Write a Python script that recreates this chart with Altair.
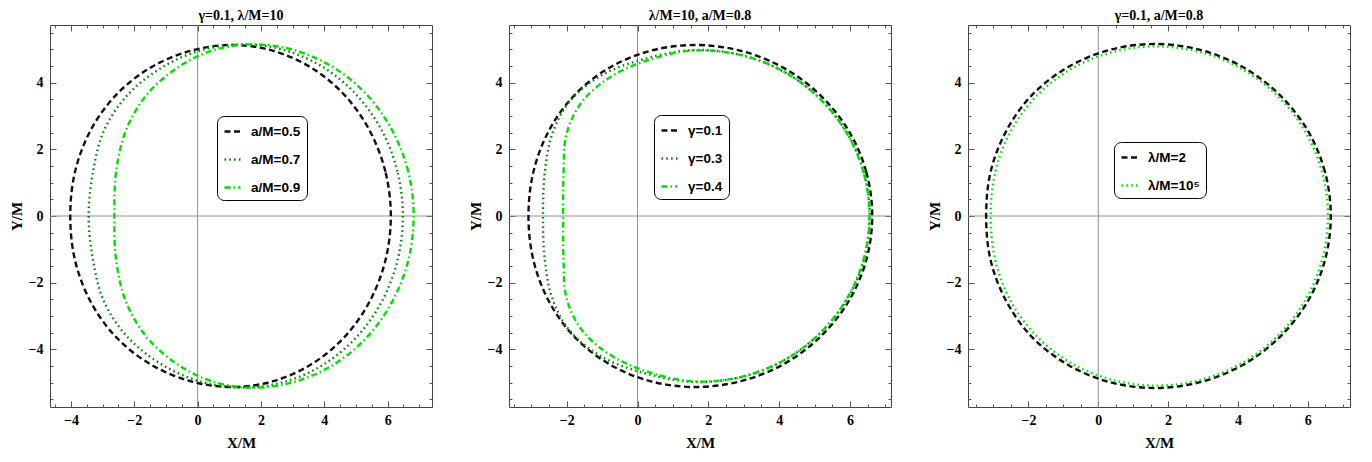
import altair as alt
import pandas as pd

W = 382
H = 382

# ---------------- axis domains and ticks ----------------
XDOM1 = [-4.66, 7.40]
XDOM2 = [-3.63, 7.16]
XDOM3 = [-3.73, 7.21]
YDOM = [-5.73, 5.73]

X_MAJOR1 = [-4, -2, 0, 2, 4, 6]
X_MAJOR23 = [-2, 0, 2, 4, 6]
X_MINOR1 = [-4.5, -3.5, -3, -2.5, -1.5, -1, -0.5, 0.5, 1, 1.5, 2.5, 3, 3.5, 4.5, 5, 5.5, 6.5, 7]
X_MINOR23 = [-3.5, -3, -2.5, -1.5, -1, -0.5, 0.5, 1, 1.5, 2.5, 3, 3.5, 4.5, 5, 5.5, 6.5, 7]
Y_MAJOR = [-4, -2, 0, 2, 4]
Y_MINOR = [-5.5, -5, -4.5, -3.5, -3, -2.5, -1.5, -1, -0.5, 0.5, 1, 1.5, 2.5, 3, 3.5, 4.5, 5, 5.5]
ZERO = [0]

# ---------------- panel 1 : gamma=0.1, lambda/M=10 ----------------
P1_NAMES = ["a/M=0.5", "a/M=0.7", "a/M=0.9"]
P1A_X = [6.10, 5.93, 5.43, 4.64, 3.60, 2.39, 1.10, -0.23, -1.50, -2.58, -3.38, -3.87, -4.02,
         -3.87, -3.38, -2.58, -1.50, -0.23, 1.10, 2.39, 3.60, 4.64, 5.43, 5.93]
P1A_Y = [0, 1.328, 2.565, 3.627, 4.443, 4.955, 5.13, 4.955, 4.443, 3.627, 2.565, 1.328, 0,
         -1.328, -2.565, -3.627, -4.443, -4.955, -5.13, -4.955, -4.443, -3.627, -2.565, -1.328]
P1B_X = [6.48, 6.31, 5.81, 5.01, 3.97, 2.75, 1.45, 0.12, -1.12, -2.20, -2.95, -3.30, -3.44,
         -3.30, -2.95, -2.20, -1.12, 0.12, 1.45, 2.75, 3.97, 5.01, 5.81, 6.31]
P1B_Y = [0, 1.333, 2.575, 3.642, 4.460, 4.975, 5.15, 4.975, 4.460, 3.642, 2.575, 1.333, 0,
         -1.333, -2.575, -3.642, -4.460, -4.975, -5.15, -4.975, -4.460, -3.642, -2.575, -1.333]
P1C_X = [6.82, 6.65, 6.14, 5.34, 4.29, 3.06, 1.75, 0.50, -0.62, -1.60, -2.26, -2.57, -2.63,
         -2.57, -2.26, -1.60, -0.62, 0.50, 1.75, 3.06, 4.29, 5.34, 6.14, 6.65]
P1C_Y = [0, 1.333, 2.575, 3.642, 4.460, 4.975, 5.15, 4.975, 4.460, 3.642, 2.575, 1.333, 0,
         -1.333, -2.575, -3.642, -4.460, -4.975, -5.15, -4.975, -4.460, -3.642, -2.575, -1.333]

# ---------------- panel 2 : lambda/M=10, a/M=0.8 ----------------
P2_NAMES = ["γ=0.1", "γ=0.3", "γ=0.4"]
P2A_X = [6.63, 6.46, 5.96, 5.16, 4.13, 2.92, 1.62, 0.36, -0.80, -1.78, -2.50, -2.94, -3.08,
         -2.94, -2.50, -1.78, -0.80, 0.36, 1.62, 2.92, 4.13, 5.16, 5.96, 6.46]
P2A_Y = [0, 1.328, 2.565, 3.627, 4.443, 4.955, 5.13, 4.955, 4.443, 3.627, 2.565, 1.328, 0,
         -1.328, -2.565, -3.627, -4.443, -4.955, -5.13, -4.955, -4.443, -3.627, -2.565, -1.328]
P2B_X = [6.56, 6.40, 5.92, 5.15, 4.16, 3.00, 1.75, 0.55, -0.85, -1.85, -2.40, -2.62, -2.67,
         -2.62, -2.40, -1.85, -0.85, 0.55, 1.75, 3.00, 4.16, 5.15, 5.92, 6.40]
P2B_Y = [0, 1.289, 2.490, 3.521, 4.313, 4.810, 4.98, 4.810, 4.313, 3.521, 2.490, 1.289, 0,
         -1.289, -2.490, -3.521, -4.313, -4.810, -4.98, -4.810, -4.313, -3.521, -2.490, -1.289]
P2C_X = [6.55, 6.39, 5.91, 5.16, 4.18, 3.03, 1.80, 0.70, -0.55, -1.50, -2.00, -2.09, -2.10,
         -2.09, -2.00, -1.50, -0.55, 0.70, 1.80, 3.03, 4.18, 5.16, 5.91, 6.39]
P2C_Y = [0, 1.286, 2.485, 3.514, 4.304, 4.801, 4.97, 4.801, 4.304, 3.514, 2.485, 1.286, 0,
         -1.286, -2.485, -3.514, -4.304, -4.801, -4.97, -4.801, -4.304, -3.514, -2.485, -1.286]

# ---------------- panel 3 : gamma=0.1, a/M=0.8 ----------------
P3_NAMES = ["λ/M=2", "λ/M=10⁵"]
P3A_X = [6.66, 6.49, 5.99, 5.18, 4.14, 2.92, 1.62, 0.33, -0.86, -1.88, -2.62, -3.08, -3.21,
         -3.08, -2.62, -1.88, -0.86, 0.33, 1.62, 2.92, 4.14, 5.18, 5.99, 6.49]
P3A_Y = [0, 1.335, 2.580, 3.649, 4.469, 4.984, 5.16, 4.984, 4.469, 3.649, 2.580, 1.335, 0,
         -1.335, -2.580, -3.649, -4.469, -4.984, -5.16, -4.984, -4.469, -3.649, -2.580, -1.335]
P3B_X = [6.58, 6.41, 5.92, 5.14, 4.12, 2.93, 1.65, 0.40, -0.78, -1.77, -2.51, -2.95, -3.08,
         -2.95, -2.51, -1.77, -0.78, 0.40, 1.65, 2.93, 4.12, 5.14, 5.92, 6.41]
P3B_Y = [0, 1.317, 2.545, 3.599, 4.408, 4.917, 5.09, 4.917, 4.408, 3.599, 2.545, 1.317, 0,
         -1.317, -2.545, -3.599, -4.408, -4.917, -5.09, -4.917, -4.408, -3.599, -2.545, -1.317]

# ---------------- styles ----------------
BLACK = "#111111"
DKGREEN = "#008a00"
GREEN = "#00e000"
DASHED = [6, 3.5]
DOTTED = [1.6, 3.2]
DOTDASH = [6, 3, 1.6, 3]

SERIF = "Liberation Serif"
SANS = "Liberation Sans"


def make_panel(curves, names, colors, dashes, xdom, x_major, x_minor, title, lx, ly):
    rows = []
    for name, (xs, ys) in zip(names, curves):
        for i, (a, b) in enumerate(zip(xs, ys)):
            rows.append({"s": name, "i": i, "x": a, "y": b})
    df = pd.DataFrame(rows)

    xsc = alt.Scale(domain=xdom, nice=False, zero=False)
    ysc = alt.Scale(domain=YDOM, nice=False, zero=False)

    leg = alt.Legend(
        orient="none", legendX=lx, legendY=ly, title=None,
        strokeColor="#000000", fillColor="#ffffff", cornerRadius=7,
        padding=6, rowPadding=12, symbolType="stroke", symbolSize=256,
        symbolStrokeWidth=2.4, labelFont=SANS, labelFontWeight="bold",
        labelFontSize=13.5, labelOffset=9, labelColor="#000000",
    )

    zx = alt.Chart(pd.DataFrame({"v": ZERO})).mark_rule(color="#909090", strokeWidth=1).encode(
        x=alt.X("v:Q", scale=xsc, axis=None)
    )
    zy = alt.Chart(pd.DataFrame({"v": ZERO})).mark_rule(color="#909090", strokeWidth=1).encode(
        y=alt.Y("v:Q", scale=ysc, axis=None)
    )

    lines = alt.Chart(df).mark_line(interpolate="cardinal-closed", strokeWidth=2.4).encode(
        x=alt.X("x:Q", scale=xsc, axis=alt.Axis(
            orient="bottom", values=x_major, format="d", ticks=False, tickSize=0,
            domain=False, grid=False, title="X/M", labelPadding=6, titlePadding=8)),
        y=alt.Y("y:Q", scale=ysc, axis=alt.Axis(
            orient="left", values=Y_MAJOR, format="d", ticks=False, tickSize=0,
            domain=False, grid=False, title="Y/M", labelPadding=7, titlePadding=4)),
        color=alt.Color("s:N", scale=alt.Scale(domain=names, range=colors), legend=leg),
        strokeDash=alt.StrokeDash("s:N", scale=alt.Scale(domain=names, range=dashes), legend=leg),
        order=alt.Order("i:Q"),
    )

    def tick_layer(xo, yo, xv, yv, size):
        return alt.Chart(df).mark_point(opacity=0).encode(
            x=alt.X("x:Q", scale=xsc, axis=alt.Axis(
                orient=xo, offset=-H, values=xv, tickSize=size, labels=False,
                domain=False, grid=False, title="")),
            y=alt.Y("y:Q", scale=ysc, axis=alt.Axis(
                orient=yo, offset=-W, values=yv, tickSize=size, labels=False,
                domain=False, grid=False, title="")),
        )

    t1 = tick_layer("top", "right", x_major, Y_MAJOR, 6)
    t2 = tick_layer("bottom", "left", x_major, Y_MAJOR, 6)
    t3 = tick_layer("top", "right", x_minor, Y_MINOR, 3)
    t4 = tick_layer("bottom", "left", x_minor, Y_MINOR, 3)

    return alt.layer(zx, zy, lines, t1, t2, t3, t4).resolve_scale(
        x="independent", y="independent"
    ).properties(
        width=W, height=H,
        title=alt.TitleParams(text=title, font=SERIF, fontWeight="bold", fontSize=14,
                              anchor="middle", frame="group", offset=2, color="#000000"),
    )


p1 = make_panel([(P1A_X, P1A_Y), (P1B_X, P1B_Y), (P1C_X, P1C_Y)], P1_NAMES,
                [BLACK, DKGREEN, GREEN], [DASHED, DOTTED, DOTDASH],
                XDOM1, X_MAJOR1, X_MINOR1, "γ=0.1, λ/M=10", 167, 91)
p2 = make_panel([(P2A_X, P2A_Y), (P2B_X, P2B_Y), (P2C_X, P2C_Y)], P2_NAMES,
                [BLACK, DKGREEN, GREEN], [DASHED, DOTTED, DOTDASH],
                XDOM2, X_MAJOR23, X_MINOR23, "λ/M=10, a/M=0.8", 145, 90)
p3 = make_panel([(P3A_X, P3A_Y), (P3B_X, P3B_Y)], P3_NAMES,
                [BLACK, GREEN], [DASHED, DOTTED],
                XDOM3, X_MAJOR23, X_MINOR23, "γ=0.1, a/M=0.8", 146, 117)

chart = alt.hconcat(p1, p2, p3, spacing=34).resolve_scale(
    color="independent", strokeDash="independent"
).properties(
    padding={"left": 0, "top": 0, "right": 0, "bottom": 0}
).configure_view(
    stroke="#444444", strokeWidth=1
).configure_axis(
    labelFont=SERIF, labelFontWeight="bold", labelFontSize=14, labelColor="#000000",
    titleFont=SERIF, titleFontWeight="bold", titleFontSize=15, titleColor="#000000",
    tickColor="#555555", tickWidth=1,
)

chart.save("out.html", embed_options={"renderer": "svg", "actions": False})
